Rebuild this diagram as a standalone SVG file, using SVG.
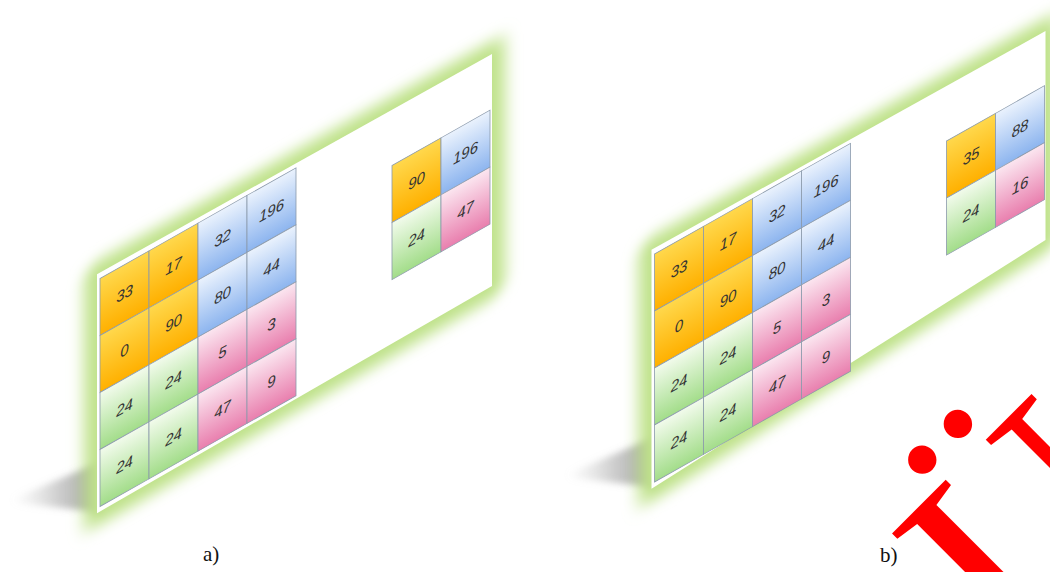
<svg xmlns="http://www.w3.org/2000/svg" width="1050" height="572" viewBox="0 0 1050 572">
<defs>
<linearGradient id="gO" x1="0" y1="0" x2="0" y2="1"><stop offset="0" stop-color="#ffd84c"/><stop offset="1" stop-color="#ffb000"/></linearGradient>
<linearGradient id="gB" x1="0" y1="0" x2="0" y2="1"><stop offset="0" stop-color="#eaf2fd"/><stop offset="1" stop-color="#8db5ef"/></linearGradient>
<linearGradient id="gP" x1="0" y1="0" x2="0" y2="1"><stop offset="0" stop-color="#fbe6f0"/><stop offset="1" stop-color="#e97fae"/></linearGradient>
<linearGradient id="gG" x1="0" y1="0" x2="0" y2="1"><stop offset="0" stop-color="#f2fbec"/><stop offset="1" stop-color="#a3dd8a"/></linearGradient>
<linearGradient id="gS" x1="1" y1="0" x2="0" y2="0"><stop offset="0" stop-color="#7d7d7d" stop-opacity="0.8"/><stop offset="0.5" stop-color="#9a9a9a" stop-opacity="0.45"/><stop offset="1" stop-color="#bbbbbb" stop-opacity="0"/></linearGradient>
<filter id="glow" x="-25%" y="-30%" width="150%" height="160%"><feGaussianBlur stdDeviation="8"/></filter>
<filter id="soft" x="-20%" y="-50%" width="140%" height="200%"><feGaussianBlur stdDeviation="3.5"/></filter>
</defs>
<style>
.o{fill:url(#gO)}.b{fill:url(#gB)}.p{fill:url(#gP)}.g{fill:url(#gG)}
.c{stroke:#8b9aab;stroke-width:0.8}
.t{font-family:"Liberation Sans",Arial,sans-serif;font-style:italic;font-size:15px;fill:#333;text-anchor:middle}
.glowp{fill:#bfe28a;stroke:#bfe28a;stroke-width:26;stroke-linejoin:round}
.panel{fill:#ffffff}
.lbl{font-family:"Liberation Serif","Times New Roman",serif;font-size:21px;fill:#111}
.wm{font-family:"Liberation Serif","Times New Roman",serif;font-size:290px;fill:#ff0000}
</style>

<!-- shadows -->
<polygon points="100,462 100,512 15,503 12,499" fill="url(#gS)" filter="url(#soft)"/>
<polygon points="655,437 655,487 570,478 567,474" fill="url(#gS)" filter="url(#soft)"/>

<!-- Panel a -->
<g id="panel-a" transform="translate(100,278.5) matrix(1,-0.565,0,1,0,0)">
  <polygon class="glowp" points="-3,-6 392,-3 392,229 -3,233" filter="url(#glow)"/>
  <polygon class="panel" points="-3,-6 392,-3 392,229 -3,233"/>
  <g id="a-grid">
    <g id="a-c00"><rect class="o c" x="0" y="0" width="49" height="57"/><text class="t" x="24.5" y="34">33</text></g>
    <g id="a-c01"><rect class="o c" x="49" y="0" width="49" height="57"/><text class="t" x="73.5" y="34">17</text></g>
    <g id="a-c02"><rect class="b c" x="98" y="0" width="49" height="57"/><text class="t" x="122.5" y="34">32</text></g>
    <g id="a-c03"><rect class="b c" x="147" y="0" width="49" height="57"/><text class="t" x="171.5" y="34">196</text></g>
    <g id="a-c10"><rect class="o c" x="0" y="57" width="49" height="57"/><text class="t" x="24.5" y="91">0</text></g>
    <g id="a-c11"><rect class="o c" x="49" y="57" width="49" height="57"/><text class="t" x="73.5" y="91">90</text></g>
    <g id="a-c12"><rect class="b c" x="98" y="57" width="49" height="57"/><text class="t" x="122.5" y="91">80</text></g>
    <g id="a-c13"><rect class="b c" x="147" y="57" width="49" height="57"/><text class="t" x="171.5" y="91">44</text></g>
    <g id="a-c20"><rect class="g c" x="0" y="114" width="49" height="57"/><text class="t" x="24.5" y="148">24</text></g>
    <g id="a-c21"><rect class="g c" x="49" y="114" width="49" height="57"/><text class="t" x="73.5" y="148">24</text></g>
    <g id="a-c22"><rect class="p c" x="98" y="114" width="49" height="57"/><text class="t" x="122.5" y="148">5</text></g>
    <g id="a-c23"><rect class="p c" x="147" y="114" width="49" height="57"/><text class="t" x="171.5" y="148">3</text></g>
    <g id="a-c30"><rect class="g c" x="0" y="171" width="49" height="57"/><text class="t" x="24.5" y="205">24</text></g>
    <g id="a-c31"><rect class="g c" x="49" y="171" width="49" height="57"/><text class="t" x="73.5" y="205">24</text></g>
    <g id="a-c32"><rect class="p c" x="98" y="171" width="49" height="57"/><text class="t" x="122.5" y="205">47</text></g>
    <g id="a-c33"><rect class="p c" x="147" y="171" width="49" height="57"/><text class="t" x="171.5" y="205">9</text></g>
  </g>
  <g id="a-result">
    <g id="a-r00"><rect class="o c" x="292" y="52" width="49" height="57"/><text class="t" x="316.5" y="86">90</text></g>
    <g id="a-r01"><rect class="b c" x="341" y="52" width="49" height="57"/><text class="t" x="365.5" y="86">196</text></g>
    <g id="a-r10"><rect class="g c" x="292" y="109" width="49" height="57"/><text class="t" x="316.5" y="143">24</text></g>
    <g id="a-r11"><rect class="p c" x="341" y="109" width="49" height="57"/><text class="t" x="365.5" y="143">47</text></g>
  </g>
</g>

<!-- Panel b -->
<g id="panel-b" transform="translate(654.5,254) matrix(1,-0.565,0,1,0,0)">
  <polygon class="glowp" points="-3,-6 391,-2 391,207 -3,233" filter="url(#glow)"/>
  <polygon class="panel" points="-3,-6 391,-2 391,207 -3,233"/>
  <g id="b-grid">
    <g id="b-c00"><rect class="o c" x="0" y="0" width="49" height="57"/><text class="t" x="24.5" y="34">33</text></g>
    <g id="b-c01"><rect class="o c" x="49" y="0" width="49" height="57"/><text class="t" x="73.5" y="34">17</text></g>
    <g id="b-c02"><rect class="b c" x="98" y="0" width="49" height="57"/><text class="t" x="122.5" y="34">32</text></g>
    <g id="b-c03"><rect class="b c" x="147" y="0" width="49" height="57"/><text class="t" x="171.5" y="34">196</text></g>
    <g id="b-c10"><rect class="o c" x="0" y="57" width="49" height="57"/><text class="t" x="24.5" y="91">0</text></g>
    <g id="b-c11"><rect class="o c" x="49" y="57" width="49" height="57"/><text class="t" x="73.5" y="91">90</text></g>
    <g id="b-c12"><rect class="b c" x="98" y="57" width="49" height="57"/><text class="t" x="122.5" y="91">80</text></g>
    <g id="b-c13"><rect class="b c" x="147" y="57" width="49" height="57"/><text class="t" x="171.5" y="91">44</text></g>
    <g id="b-c20"><rect class="g c" x="0" y="114" width="49" height="57"/><text class="t" x="24.5" y="148">24</text></g>
    <g id="b-c21"><rect class="g c" x="49" y="114" width="49" height="57"/><text class="t" x="73.5" y="148">24</text></g>
    <g id="b-c22"><rect class="p c" x="98" y="114" width="49" height="57"/><text class="t" x="122.5" y="148">5</text></g>
    <g id="b-c23"><rect class="p c" x="147" y="114" width="49" height="57"/><text class="t" x="171.5" y="148">3</text></g>
    <g id="b-c30"><rect class="g c" x="0" y="171" width="49" height="57"/><text class="t" x="24.5" y="205">24</text></g>
    <g id="b-c31"><rect class="g c" x="49" y="171" width="49" height="57"/><text class="t" x="73.5" y="205">24</text></g>
    <g id="b-c32"><rect class="p c" x="98" y="171" width="49" height="57"/><text class="t" x="122.5" y="205">47</text></g>
    <g id="b-c33"><rect class="p c" x="147" y="171" width="49" height="57"/><text class="t" x="171.5" y="205">9</text></g>
  </g>
  <g id="b-result">
    <g id="b-r00"><rect class="o c" x="292" y="52" width="49" height="57"/><text class="t" x="316.5" y="86">35</text></g>
    <g id="b-r01"><rect class="b c" x="341" y="52" width="49" height="57"/><text class="t" x="365.5" y="86">88</text></g>
    <g id="b-r10"><rect class="g c" x="292" y="109" width="49" height="57"/><text class="t" x="316.5" y="143">24</text></g>
    <g id="b-r11"><rect class="p c" x="341" y="109" width="49" height="57"/><text class="t" x="365.5" y="143">16</text></g>
  </g>
</g>

<!-- watermark (cropped by the picture edge, as in the reference) -->
<text class="wm" x="0" y="0" transform="translate(1022,672) rotate(-45)">Ü</text>

<!-- captions -->
<text id="label-a" class="lbl" x="203" y="561">a)</text>
<text id="label-b" class="lbl" x="880" y="562">b)</text>
</svg>
